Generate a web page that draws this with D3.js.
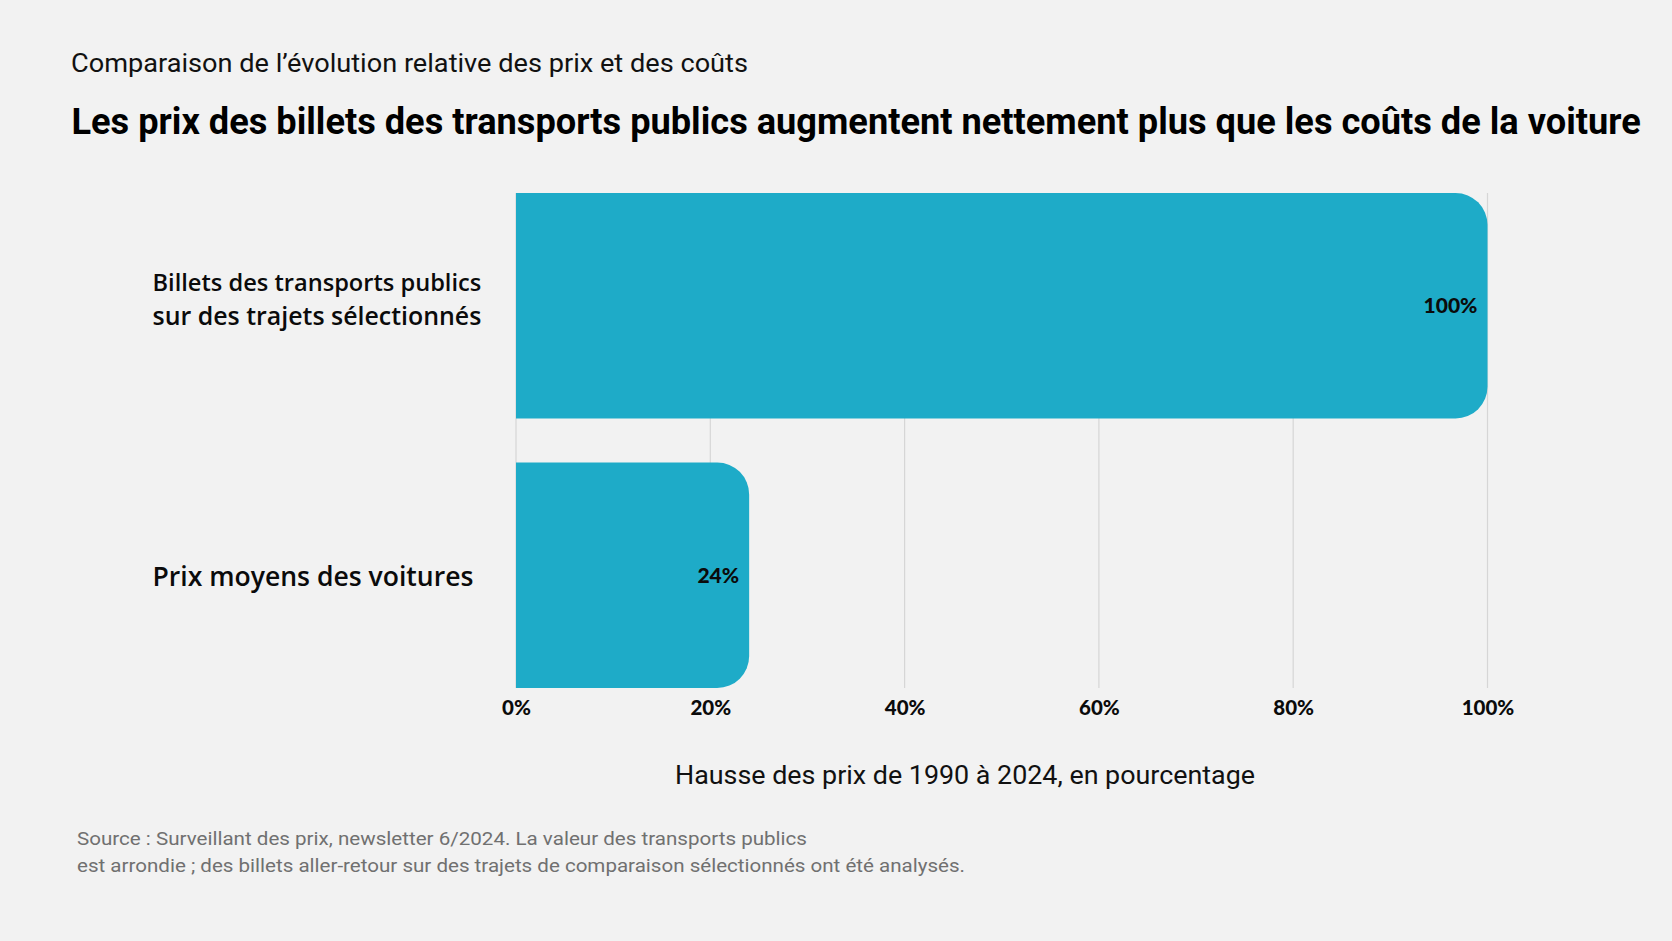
<!DOCTYPE html>
<html>
<head>
<meta charset="utf-8">
<script src="https://cdn.jsdelivr.net/npm/d3@7"></script>
<style>
  html, body { margin: 0; padding: 0; background: #f2f2f2; }
  svg { display: block; }
</style>
</head>
<body>
<svg id="chart" width="1672" height="941"></svg>
<script>
// ---- Data ----
const categories = ["Billets des transports publics sur des trajets sélectionnés", "Prix moyens des voitures"];
const categoryLines = [["Billets des transports publics", "sur des trajets sélectionnés"], ["Prix moyens des voitures"]];
const values = [100, 24];
const valueLabels = ["100%", "24%"];
const tickValues = [0, 20, 40, 60, 80, 100];
const tickLabels = ["0%", "20%", "40%", "60%", "80%", "100%"];
const subtitle = "Comparaison de l’évolution relative des prix et des coûts";
const title = "Les prix des billets des transports publics augmentent nettement plus que les coûts de la voiture";
const axisTitle = "Hausse des prix de 1990 à 2024, en pourcentage";
const sourceLines = [
  "Source : Surveillant des prix, newsletter 6/2024. La valeur des transports publics",
  "est arrondie ; des billets aller-retour sur des trajets de comparaison sélectionnés ont été analysés."
];

// ---- Layout ----
const svg = d3.select("#chart");
const W = 1672, H = 941;
svg.append("rect").attr("width", W).attr("height", H).attr("fill", "#f2f2f2");

const FONT = "Roboto, 'Noto Sans', sans-serif";
const BAR = "#1eabc8";

const x = d3.scaleLinear().domain([0, 100]).range([516, 1487.5]);
const y = d3.scaleBand().domain(categories).range([193, 688]).paddingInner(0.163).paddingOuter(0);

// fit a text to a target width: shrink font if too wide, stretch spacing if too narrow
function fit(sel, w) {
  const node = sel.node();
  const nat = node.getComputedTextLength();
  if (nat > w) {
    const fs = parseFloat(sel.attr("font-size"));
    sel.attr("font-size", fs * w / nat);
  } else {
    sel.attr("textLength", w).attr("lengthAdjust", "spacingAndGlyphs");
  }
}

// Subtitle & title
svg.append("text").attr("x", 71).attr("y", 72)
  .attr("font-family", FONT).attr("font-size", 25).attr("fill", "#111")
  .text(subtitle).call(fit, 677);
svg.append("text").attr("x", 71.5).attr("y", 134)
  .attr("font-family", FONT).attr("font-weight", 700).attr("font-size", 39).attr("fill", "#000")
  .text(title).call(fit, 1570);

// Gridlines
svg.append("g").selectAll("line").data(tickValues).join("line")
  .attr("x1", d => x(d)).attr("x2", d => x(d))
  .attr("y1", y.range()[0]).attr("y2", y.range()[1])
  .attr("stroke", "#d6d6d6").attr("stroke-width", 1.2);

// Bars with rounded right corners
const r = 32;
function barPath(d, i) {
  const c = categories[i];
  const x0 = x(0), x1 = x(d), y0 = y(c), y1 = y(c) + y.bandwidth();
  const rr = Math.min(r, (x1 - x0));
  return `M${x0},${y0} H${x1 - rr} A${rr},${rr} 0 0 1 ${x1},${y0 + rr} V${y1 - rr} A${rr},${rr} 0 0 1 ${x1 - rr},${y1} H${x0} Z`;
}
svg.append("g").selectAll("path").data(values).join("path")
  .attr("d", barPath).attr("fill", BAR);

// Value labels
svg.append("g").selectAll("text").data(values).join("text")
  .attr("x", d => x(d) - 10)
  .attr("y", (d, i) => y(categories[i]) + y.bandwidth() / 2)
  .attr("dy", "0.36em")
  .attr("text-anchor", "end")
  .attr("font-family", "Lato, " + FONT).attr("font-weight", 900).attr("font-size", 21).attr("fill", "#0b0b0b")
  .text((d, i) => valueLabels[i]);

// Category labels
const catWidths = [[329, 329], [321]];
const catSizes = [26, 27];
const catG = svg.append("g");
categoryLines.forEach((lines, i) => {
  const cy = y(categories[i]) + y.bandwidth() / 2 + (lines.length > 1 ? -6 : 1);
  const lh = 34;
  lines.forEach((ln, j) => {
    catG.append("text").attr("x", 152.5)
      .attr("y", cy + (j - (lines.length - 1) / 2) * lh)
      .attr("dy", "0.35em")
      .attr("font-family", "'Open Sans', " + FONT).attr("font-weight", 600)
      .attr("font-size", catSizes[i]).attr("fill", "#0b0b0b")
      .text(ln).call(fit, catWidths[i][j]);
  });
});

// X axis
const axis = d3.axisBottom(x).tickValues(tickValues)
  .tickFormat((d, i) => tickLabels[i]).tickSize(0).tickPadding(0);
const ag = svg.append("g").attr("transform", `translate(0,${y.range()[1]})`).call(axis);
ag.select(".domain").remove();
ag.selectAll("text")
  .attr("y", 20).attr("dy", "0.35em")
  .attr("font-family", "Lato, " + FONT).attr("font-weight", 900).attr("font-size", 20.5).attr("fill", "#0b0b0b");

// Axis title
svg.append("text").attr("x", 965).attr("y", 775).attr("dy", "0.35em")
  .attr("text-anchor", "middle")
  .attr("font-family", FONT).attr("font-size", 26).attr("fill", "#111")
  .text(axisTitle).call(fit, 580);

// Source
const srcWidths = [730, 888];
sourceLines.forEach((s, i) => {
  svg.append("text").attr("x", 77).attr("y", 838 + i * 27.5).attr("dy", "0.35em")
    .attr("font-family", FONT).attr("font-size", 19).attr("fill", "#707070")
    .text(s).call(fit, srcWidths[i]);
});
</script>
</body>
</html>
